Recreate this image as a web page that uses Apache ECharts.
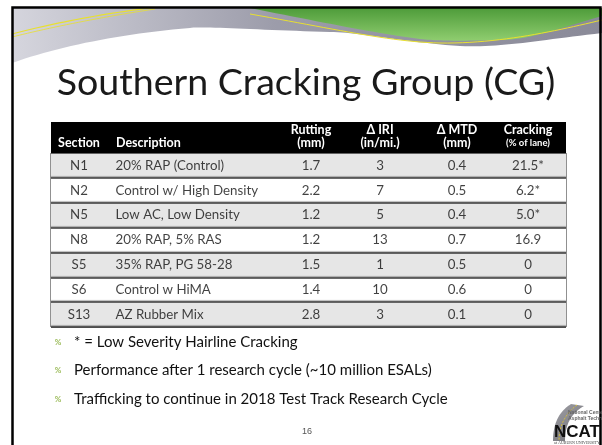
<!DOCTYPE html>
<html><head><meta charset="utf-8">
<script src="https://cdn.jsdelivr.net/npm/echarts@6/dist/echarts.min.js"></script>
<style>html,body{margin:0;padding:0;background:#fff}#c{width:602px;height:445px}</style>
</head><body><div id="c"></div>
<script>
// ---- data ----
const sections = ['N1','N2','N5','N8','S5','S6','S13'];
const descriptions = ['20% RAP (Control)','Control w/ High Density','Low AC, Low Density','20% RAP, 5% RAS','35% RAP, PG 58-28','Control w HiMA','AZ Rubber Mix'];
const rutting = [1.7, 2.2, 1.2, 1.2, 1.5, 1.4, 2.8];
const iri = [3, 7, 5, 13, 1, 10, 3];
const mtd = [0.4, 0.5, 0.4, 0.7, 0.5, 0.6, 0.1];
const cracking = [21.5, 6.2, 5.0, 16.9, 0, 0, 0];
const lowSeverity = [true, true, true, false, false, false, false];
const headerLabels = ['Section','Description','Rutting\n(mm)','\u0394 IRI\n(in/mi.)','\u0394 MTD\n(mm)','Cracking\n{s|(% of lane)}'];
const titleText = 'Southern Cracking Group (CG)';
const bullets = ['* = Low Severity Hairline Cracking','Performance after 1 research cycle (~10 million ESALs)','Trafficking to continue in 2018 Test Track Research Cycle'];
const pageNumber = '16';

// ---- layout ----
const FONT = 'Lato, "Open Sans", sans-serif';
const T = {left:51, width:515, headTop:122, top:153, height:174};
const colCenters = [79, 115, 311, 380, 457, 528];
const colWidth = 60;

const f1 = v => v.toFixed(1);
const crackFmt = (v,i) => v === 0 ? '0' : f1(v) + (lowSeverity[i] ? '*' : '');
const columnValues = [sections, descriptions, rutting.map(f1), iri.map(String), mtd.map(f1), cracking.map(crackFmt)];

// decoration helper: sample a simple M/L/C path into points
function pts(d) {
  const tok = d.match(/[MLC]|-?\d*\.?\d+/g); const out = []; let i = 0, cur = null, cx = 0, cy = 0;
  while (i < tok.length) {
    if (/[MLC]/.test(tok[i])) { cur = tok[i++]; continue; }
    if (cur === 'M' || cur === 'L') { cx = +tok[i++]; cy = +tok[i++]; out.push([cx, cy]); }
    else if (cur === 'C') {
      const a = [+tok[i++], +tok[i++], +tok[i++], +tok[i++], +tok[i++], +tok[i++]];
      for (let k = 1; k <= 24; k++) { const t = k/24, u = 1-t;
        out.push([u*u*u*cx + 3*u*u*t*a[0] + 3*u*t*t*a[2] + t*t*t*a[4], u*u*u*cy + 3*u*u*t*a[1] + 3*u*t*t*a[3] + t*t*t*a[5]]); }
      cx = a[4]; cy = a[5];
    }
  }
  return out;
}
const lin = (x,y,x2,y2,stops) => ({type:'linear', x, y, x2, y2, colorStops: stops.map(s => ({offset:s[0], color:s[1]}))});

const grid = [], xAxis = [], yAxis = [], series = [];
colCenters.forEach((c, i) => {
  grid.push({left: c - colWidth/2, width: colWidth, top: T.top, height: T.height, show:false});
  xAxis.push({gridIndex:i, type:'category', data:[headerLabels[i]], position:'top', z:10,
    axisLine:{show:false}, axisTick:{show:false},
    axisLabel:{color:'#fff', fontWeight:'bold', fontFamily:FONT, fontSize:12.5, lineHeight:13, margin:4,
      align: i===1 ? 'left' : 'center', padding: i===1 ? [0,0,0,1] : 0,
      rich:{s:{fontSize:9.5, fontWeight:'bold', color:'#fff', fontFamily:FONT, lineHeight:13}}}});
  yAxis.push({gridIndex:i, type:'category', data:sections, inverse:true, show:false});
  series.push({type:'scatter', xAxisIndex:i, yAxisIndex:i, symbolSize:1, z:10,
    itemStyle:{color:'rgba(0,0,0,0)'},
    data: columnValues[i].map((v,j) => [0, j, v]),
    label:{show:true, position: i===1 ? 'right' : 'inside', distance:0,
      formatter: p => p.data[2], color:'#111', fontSize:13.3, fontFamily:FONT}});
});
// background grid for row bands / separators
grid.push({left:T.left, width:T.width, top:T.top, height:T.height, show:true, borderColor:'#222', borderWidth:1, backgroundColor:'transparent'});
xAxis.push({gridIndex:6, type:'value', min:0, max:1, show:false});
yAxis.push({gridIndex:6, type:'category', data:sections, inverse:true,
  axisLine:{show:false}, axisTick:{show:false}, axisLabel:{show:false},
  splitLine:{show:true, lineStyle:{color:'#3a3a3a', width:1.5, shadowColor:'rgba(0,0,0,0.35)', shadowOffsetY:-1, shadowBlur:1}},
  splitArea:{show:true, areaStyle:{color:['#e6e6e6','#ffffff']}}});

const graphic = [
  {type:'polygon', z:-5, shape:{points:pts('M12,8 L602,8 L602,33 C540,40 500,48 460,46 C400,42 360,32 330,32 C260,30 200,26 190,28 C120,34 60,46 12,63 Z')},
    style:{fill:lin(0,1,1,0,[[0,'#d6d6de'],[0.45,'#9c9caa'],[1,'#8a8a98']])}},
  {type:'polygon', z:-4, shape:{points:pts('M250,8 L602,8 L602,16 C560,28 530,40 500,40 C460,41 440,41 420,39 C380,34 320,22 250,8 Z')},
    style:{fill:lin(0,0,0,1,[[0,'#4e9c3a'],[1,'#8fcd6f']])}},
  {type:'polyline', z:-3, shape:{points:pts('M12,34 C50,24 100,14 150,8')}, style:{stroke:'#e8e030', lineWidth:1.2, fill:null}},
  {type:'polyline', z:-3, shape:{points:pts('M12,37 C52,27 102,17 155,9')}, style:{stroke:'#e8e030', lineWidth:0.8, fill:null}},
  {type:'polyline', z:-3, shape:{points:pts('M250,14 C330,28 390,42 440,43 C500,44 560,30 602,20')}, style:{stroke:'#e8e030', lineWidth:1, fill:null}},
  {type:'rect', z:-2, shape:{x:12.5, y:7.5, width:588, height:470}, style:{fill:'none', stroke:'#000', lineWidth:2.5}},
  {type:'text', z:5, style:{text:titleText, x:306, y:83, align:'center', verticalAlign:'middle', font:'37.6px '+FONT, fill:'#1a1a1a'}},
  {type:'rect', z:1, shape:{x:T.left, y:T.headTop, width:T.width, height:T.top - T.headTop}, style:{fill:'#000'}},
  {type:'text', z:5, style:{text:pageNumber, x:307, y:432, align:'center', verticalAlign:'middle', font:'9px "Liberation Sans", sans-serif', fill:'#555'}},
  {type:'polygon', z:4, shape:{points:pts('M571,404 C560,411 553,422 553,441 L565,441 C565,426 570,414 584,406')},
    style:{fill:lin(0,0,1,1,[[0,'#a0a0a6'],[1,'#6e6e74']])}},
  {type:'polyline', z:4, shape:{points:pts('M577,405 C566,413 559,425 559,441')}, style:{stroke:'#f0d020', lineWidth:0.8, lineDash:[2,1.5], fill:null}},
  {type:'text', z:5, style:{text:'National Center for', x:568, y:413, verticalAlign:'middle', font:'bold 5px "Liberation Sans", sans-serif', fill:'#666'}},
  {type:'text', z:5, style:{text:'Asphalt Technology', x:568, y:419, verticalAlign:'middle', font:'bold 5px "Liberation Sans", sans-serif', fill:'#666'}},
  {type:'text', z:5, style:{text:'NCAT', x:577, y:432, align:'center', verticalAlign:'middle', font:'bold 17px "Liberation Sans", sans-serif', fill:'#111', shadowColor:'rgba(0,0,0,0.3)', shadowOffsetX:1, shadowOffsetY:1}},
  {type:'text', z:5, style:{text:'at AUBURN UNIVERSITY', x:577, y:443, align:'center', verticalAlign:'middle', font:'4px "Liberation Serif", serif', fill:'#444'}}
];
bullets.forEach((b, i) => {
  const y = 342 + i * 28.5;
  graphic.push({type:'text', z:5, style:{text:'%', x:58, y:y, align:'center', verticalAlign:'middle', font:'bold 8px '+FONT, fill:'#9bbb59'}});
  graphic.push({type:'text', z:5, style:{text:b, x:74, y:y, verticalAlign:'middle', font:'15px '+FONT, fill:'#111'}});
});

const chart = echarts.init(document.getElementById('c'), null, {renderer:'canvas'});
chart.setOption({animation:false, backgroundColor:'#fff', grid, xAxis, yAxis, series, graphic});
</script></body></html>
